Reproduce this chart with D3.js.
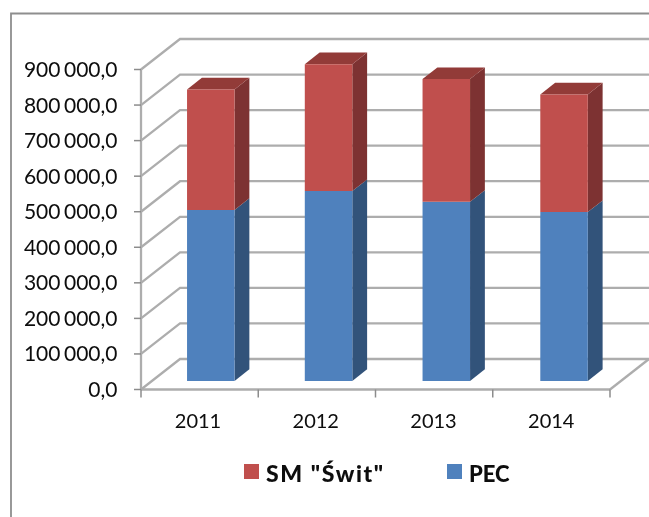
<!DOCTYPE html>
<html><head><meta charset="utf-8">
<script src="https://cdn.jsdelivr.net/npm/d3@7/dist/d3.min.js"></script>
<style>html,body{margin:0;padding:0;background:#fff}svg{display:block}text{font-family:Lato,Carlito,sans-serif;fill:#0a0a0a}</style>
</head><body><svg id="c" width="649" height="517"></svg>
<script>
const categories = ["2011","2012","2013","2014"];
const pecValues = [481000,534000,504000,475000];
const switValues = [339000,357000,345000,331000];
const yTicks = [0,100000,200000,300000,400000,500000,600000,700000,800000,900000];
const yTickLabels = ["0,0","100 000,0","200 000,0","300 000,0","400 000,0","500 000,0","600 000,0","700 000,0","800 000,0","900 000,0"];
const seriesNames = ['SM "Świt"',"PEC"];

const svg = d3.select("#c");
const defs = svg.append("defs");
defs.append("filter").attr("id","soft").attr("x","-5%").attr("y","-5%").attr("width","110%").attr("height","110%")
  .append("feGaussianBlur").attr("stdDeviation",0.5);
const W = 649, H = 517;
const root = svg.append("g").attr("filter","url(#soft)");

// frame
root.append("path").attr("d",`M${W+3},13.5H11V${H+3}`).attr("fill","none").attr("stroke","#8e8e8e").attr("stroke-width",1.8);

const x = d3.scaleBand().domain(categories).range([141,610]);
const barX = d3.scaleBand().domain(categories).range([141,612]);
const y = d3.scaleLinear().domain([0,900000]).range([389.5,69.5]);
const dx = d3.scaleLinear().domain([0,1]).range([0,39]);
const dy = d3.scaleLinear().domain([0,1]).range([0,-30.5]);
const P = (px,val,d)=>[px+dx(d), y(val)+dy(d)];
const line = d3.line();
const gridColor = "#adadad";
const gw = 2.3;

// back-wall gridlines + side wall
yTicks.forEach(v=>{
  root.append("path").attr("d",line([P(141,v,0),P(141,v,1),P(W+6,v,1)]))
    .attr("fill","none").attr("stroke",gridColor).attr("stroke-width",gw);
});
// floor right edge
root.append("path").attr("d",line([P(610,0,0),P(610,0,1)])).attr("fill","none").attr("stroke",gridColor).attr("stroke-width",gw);
// axes
root.append("path").attr("d",line([P(141,0,0),P(141,900000,0)])).attr("fill","none").attr("stroke",gridColor).attr("stroke-width",gw);
root.append("path").attr("d",line([P(141,0,0),P(610,0,0)])).attr("fill","none").attr("stroke",gridColor).attr("stroke-width",gw);

// ticks
const axisCol="#8c8c8c";
yTicks.forEach((v,i)=>{
  root.append("line").attr("x1",134).attr("x2",141).attr("y1",y(v)).attr("y2",y(v)).attr("stroke",axisCol).attr("stroke-width",1.5);
  root.append("text").attr("x",117.5).attr("y",y(v)+7.5).attr("text-anchor","end").attr("font-size",21).attr("word-spacing",-1.8).text(yTickLabels[i]);
});
[...categories.map(c=>x(c)),610].forEach(px=>{
  root.append("line").attr("x1",px).attr("x2",px).attr("y1",389.5).attr("y2",397.5).attr("stroke",axisCol).attr("stroke-width",1.5);
});
categories.forEach(c=>{
  root.append("text").attr("x",barX(c)+57).attr("y",428).attr("text-anchor","middle").attr("font-size",20).text(c);
});

// bars
const d0=0.28, d1=0.66, barW=47.5;
const colors = {
  red:{front:"#c0504d",side:"#7d3230",top:"#923a38"},
  blue:{front:"#4f81bd",side:"#32527a",top:"#3d6391"}
};
function box(g,xl,v0,v1,c,withTop){
  const xr=xl+barW;
  const poly=pts=>g.append("polygon").attr("points",pts.map(p=>p.join(",")).join(" "));
  poly([P(xr,v0,d0),P(xr,v0,d1),P(xr,v1,d1),P(xr,v1,d0)]).attr("fill",c.side);
  if(withTop) poly([P(xl,v1,d0),P(xl,v1,d1),P(xr,v1,d1),P(xr,v1,d0)]).attr("fill",c.top);
  poly([P(xl,v0,d0),P(xr,v0,d0),P(xr,v1,d0),P(xl,v1,d0)]).attr("fill",c.front);
}
categories.forEach((c,i)=>{
  const xl=barX(c)+(barX.bandwidth()-barW)/2;
  const g=root.append("g");
  box(g,xl,0,pecValues[i],colors.blue,false);
  box(g,xl,pecValues[i],pecValues[i]+switValues[i],colors.red,true);
});

// legend
const legend=[{n:seriesNames[0],c:colors.red.front,x:244,fs:23,ls:1.6},{n:seriesNames[1],c:colors.blue.front,x:447,fs:22,ls:0}];
legend.forEach(l=>{
  root.append("rect").attr("x",l.x).attr("y",464).attr("width",15).attr("height",15).attr("fill",l.c);
  root.append("text").attr("x",l.x+22).attr("y",481.5).attr("font-size",l.fs).attr("font-weight",900).attr("letter-spacing",l.ls).text(l.n);
});
</script></body></html>
